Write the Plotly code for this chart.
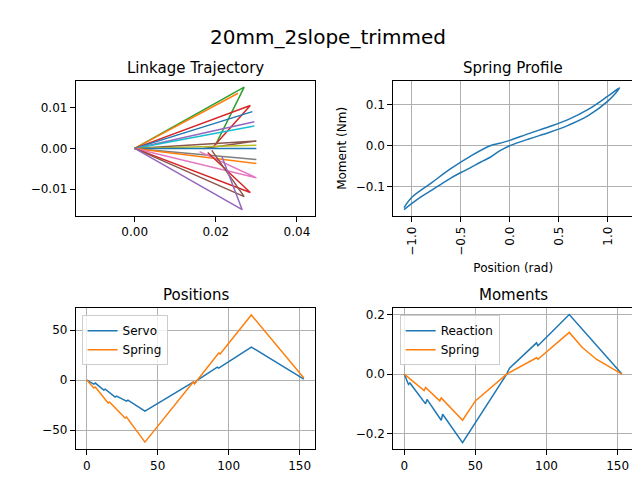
import plotly.graph_objects as go

# Linkage trajectory: each link drawn from origin to endpoint (and some back to a mid point)
link_x = [[0,0.027,0.020],[0,0.0255],[0,0.0285,0.0195],[0,0.029],[0,0.0295],[0,0.0295],[0,0.030,0.017],
          [0,0.030],[0,0.030],[0,0.030],[0,0.030],[0,0.030,0.016],[0,0.0285,0.018],[0,0.027,0.019],[0,0.0265,0.0215]]
link_y = [[0,0.015,0.001],[0,0.0135],[0,0.0105,0.0005],[0,0.009],[0,0.0065],[0,0.0055],[0,0.0018,0.0],
          [0,0.0008],[0,0.0],[0,-0.0027],[0,-0.0037],[0,-0.0072,-0.0008],[0,-0.0108,-0.001],[0,-0.0118,-0.0005],[0,-0.015,-0.002]]
link_colors = ['#2ca02c','#ff7f0e','#d62728','#1f77b4','#9467bd','#17becf','#8c564b','#bcbd22','#1f77b4',
               '#7f7f7f','#ff7f0e','#e377c2','#d62728','#8c564b','#9467bd']

# Spring profile (hysteresis loop)
prof_pos = [-1.08,-1.0,-0.9,-0.8,-0.7,-0.6,-0.5,-0.4,-0.3,-0.2,-0.1,0.0,0.2,0.4,0.6,0.8,1.0,1.12,
            1.0,0.8,0.6,0.4,0.2,0.0,-0.1,-0.2,-0.4,-0.6,-0.8,-1.0,-1.08]
prof_mom = [-0.155,-0.14,-0.123,-0.108,-0.093,-0.078,-0.065,-0.053,-0.04,-0.028,-0.012,0.0,0.017,0.032,0.05,0.073,0.108,0.14,
            0.12,0.088,0.064,0.046,0.03,0.013,0.006,0.0,-0.025,-0.055,-0.09,-0.125,-0.15]

# Positions
pos_servo_x = [0,5,6,12,13,20,21,28,29,41,75,76,78,92,93,116,153]
pos_servo_y = [0,-4,-3,-10,-9,-17,-16,-21,-20,-31,-2,-3,0,13,12,33,1]
pos_spring_x = [0,5,6,15,16,27,28,41,75,76,78,93,94,116,153]
pos_spring_y = [0,-8,-7,-23,-22,-38,-37,-62,-2,-4,0,27,26,65,2]

# Moments
mom_reac_x = [0,3,4,15,16,26,27,41,72,73,74,93,94,116,153]
mom_reac_y = [0,-0.035,-0.03,-0.1,-0.085,-0.155,-0.135,-0.23,0,0.01,0.02,0.105,0.095,0.2,0]
mom_spr_x = [0,14,15,25,26,41,50,72,93,94,116,125,135,153]
mom_spr_y = [0,-0.055,-0.045,-0.09,-0.08,-0.155,-0.09,0,0.055,0.05,0.14,0.09,0.05,0]

blue, orange = '#1f77b4', '#ff7f0e'
fig = go.Figure()
for xs, ys, c in zip(link_x, link_y, link_colors):
    fig.add_trace(go.Scatter(x=xs, y=ys, mode='lines', line=dict(color=c, width=1.5), showlegend=False, xaxis='x', yaxis='y'))
fig.add_trace(go.Scatter(x=prof_pos, y=prof_mom, mode='lines', line=dict(color=blue, width=1.5, shape='spline'), showlegend=False, xaxis='x2', yaxis='y2'))
fig.add_trace(go.Scatter(x=pos_servo_x, y=pos_servo_y, mode='lines', name='Servo', line=dict(color=blue, width=1.5), xaxis='x3', yaxis='y3', legend='legend'))
fig.add_trace(go.Scatter(x=pos_spring_x, y=pos_spring_y, mode='lines', name='Spring', line=dict(color=orange, width=1.5), xaxis='x3', yaxis='y3', legend='legend'))
fig.add_trace(go.Scatter(x=mom_reac_x, y=mom_reac_y, mode='lines', name='Reaction', line=dict(color=blue, width=1.5), xaxis='x4', yaxis='y4', legend='legend2'))
fig.add_trace(go.Scatter(x=mom_spr_x, y=mom_spr_y, mode='lines', name='Spring', line=dict(color=orange, width=1.5), xaxis='x4', yaxis='y4', legend='legend2'))

ax = dict(showline=True, mirror=True, linecolor='black', ticks='outside', tickcolor='black', zeroline=False, automargin=False,
          gridcolor='#b0b0b0', showgrid=True, tickfont=dict(size=12, color='black'))
ax_ng = dict(ax, showgrid=False)
L = (0.106, 0.48); R = (0.602, 0.977); T = (0.567, 0.848); B = (0.081, 0.375)
fig.update_layout(
    width=640, height=480, margin=dict(l=0, r=0, t=0, b=0), plot_bgcolor='white', paper_bgcolor='white',
    font=dict(family='DejaVu Sans', color='black'),
    title=dict(text='20mm_2slope_trimmed', x=0.5, y=0.955, xanchor='center', font=dict(size=20)),
    xaxis=dict(ax_ng, domain=L, anchor='y', range=[-0.0145, 0.0445], tickvals=[0,0.02,0.04], ticktext=['0.00','0.02','0.04']),
    yaxis=dict(ax_ng, domain=T, anchor='x', range=[-0.0165, 0.0165], tickvals=[-0.01,0,0.01], ticktext=['−0.01','0.00','0.01']),
    xaxis2=dict(ax, domain=R, anchor='y2', range=[-1.19, 1.26], tickvals=[-1,-0.5,0,0.5,1], ticktext=['−1.0','−0.5','0.0','0.5','1.0'],
                tickangle=-90, title=dict(text='Position (rad)', font=dict(size=12), standoff=8)),
    yaxis2=dict(ax, domain=T, anchor='x2', range=[-0.17, 0.157], tickvals=[-0.1,0,0.1], ticktext=['−0.1','0.0','0.1'],
                title=dict(text='Moment (Nm)', font=dict(size=12), standoff=6)),
    xaxis3=dict(ax, domain=L, anchor='y3', range=[-7.7, 161], tickvals=[0,50,100,150]),
    yaxis3=dict(ax, domain=B, anchor='x3', range=[-69, 72], tickvals=[-50,0,50], ticktext=['−50','0','50']),
    xaxis4=dict(ax, domain=R, anchor='y4', range=[-7.7, 161], tickvals=[0,50,100,150]),
    yaxis4=dict(ax, domain=B, anchor='x4', range=[-0.252, 0.222], tickvals=[-0.2,0,0.2], ticktext=['−0.2','0.0','0.2']),
    legend=dict(x=0.115, y=0.36, xanchor='left', yanchor='top', bordercolor='#cccccc', borderwidth=1, font=dict(size=12), bgcolor='rgba(255,255,255,0.8)'),
    legend2=dict(x=0.612, y=0.36, xanchor='left', yanchor='top', bordercolor='#cccccc', borderwidth=1, font=dict(size=12), bgcolor='rgba(255,255,255,0.8)'),
    annotations=[
        dict(text=t, x=(d[0]+d[1])/2, y=yy, xref='paper', yref='paper', xanchor='center', yanchor='bottom', showarrow=False, font=dict(size=15))
        for t, d, yy in [('Linkage Trajectory', L, 0.852), ('Spring Profile', R, 0.852), ('Positions', L, 0.379), ('Moments', R, 0.379)]
    ],
)
fig.write_html('out.html')
